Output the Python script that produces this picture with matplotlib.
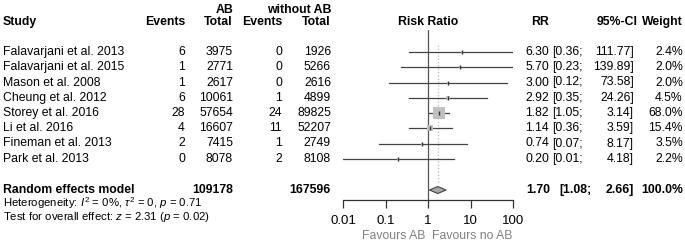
import matplotlib.pyplot as plt
import numpy as np

plt.rcParams['font.family'] = ['Liberation Sans', 'DejaVu Sans']
plt.rcParams['mathtext.fontset'] = 'custom'
plt.rcParams['mathtext.rm'] = 'Liberation Sans'
plt.rcParams['mathtext.it'] = 'Liberation Sans:italic'

# dados do forest plot
studies = ['Falavarjani et al. 2013', 'Falavarjani et al. 2015', 'Mason et al. 2008',
           'Cheung et al. 2012', 'Storey et al. 2016', 'Li et al. 2016',
           'Fineman et al. 2013', 'Park et al. 2013']
ev_ab = [6, 1, 1, 6, 28, 4, 2, 0]
tot_ab = [3975, 2771, 2617, 10061, 57654, 16607, 7415, 8078]
ev_no = [0, 0, 0, 1, 24, 11, 1, 2]
tot_no = [1926, 5266, 2616, 4899, 89825, 52207, 2749, 8108]
rr = [6.30, 5.70, 3.00, 2.92, 1.82, 1.14, 0.74, 0.20]
lo = [0.36, 0.23, 0.12, 0.35, 1.05, 0.36, 0.07, 0.01]
hi = [111.77, 139.89, 73.58, 24.26, 3.14, 3.59, 8.17, 4.18]
peso = [2.4, 2.0, 2.0, 4.5, 68.0, 15.4, 3.5, 2.2]

rr_tot, lo_tot, hi_tot = 1.70, 1.08, 2.66
n_ab, n_no = 109178, 167596

fs = 8.8
W, H = 685, 242
fig = plt.figure(figsize=(W / 100, H / 100), dpi=100)

# eixo de texto em pixels
tx = fig.add_axes([0, 0, 1, 1])
tx.set_xlim(0, W)
tx.set_ylim(H, 0)
tx.axis('off')

# eixo do forest (escala log)
x0, x1, yb, yt = 343, 513, 200, 30
fx = fig.add_axes([x0 / W, 1 - yb / H, (x1 - x0) / W, (yb - yt) / H])
fx.set_xscale('log')
fx.set_xlim(0.01, 100)
fx.set_ylim(yb, yt)
fx.patch.set_alpha(0)
for s in ['top', 'right', 'left']:
    fx.spines[s].set_visible(False)
fx.spines['bottom'].set_color('#333333')
fx.spines['bottom'].set_linewidth(0.9)
fx.set_yticks([])
fx.set_xticks([0.01, 0.1, 1, 10, 100])
fx.set_xticklabels(['0.01', '0.1', '1', '10', '100'], fontsize=fs + 0.7)
fx.minorticks_off()
fx.tick_params(axis='x', direction='out', length=6, width=0.9, color='#333333', pad=5)

linhas = [52 + 15.25 * i for i in range(len(studies))]
y_tot = 190

fx.axvline(1, color='#555555', lw=0.9)
fx.plot([rr_tot, rr_tot], [45, 184], color='#bbbbbb', lw=0.9, ls=':')

for i in range(len(studies)):
    y = linhas[i]
    fx.plot([lo[i], hi[i]], [y, y], color='#444444', lw=0.9, clip_on=True)
    lado = 12 * np.sqrt(peso[i] / 68.0) * 0.72
    fx.scatter([rr[i]], [y], marker='s', s=lado ** 2, color='#c0c0c0', zorder=3, lw=0)
    fx.scatter([rr[i]], [y], marker='|', s=9, color='#333333', zorder=4, lw=1)

# diamante do modelo
fx.fill([lo_tot, rr_tot, hi_tot, rr_tot], [y_tot, y_tot - 3.5, y_tot, y_tot + 3.5],
        facecolor='#a8a8a8', edgecolor='#444444', lw=0.8, zorder=3)

# cabeçalho
tx.text(233, 10, 'AB', ha='right', va='center', fontsize=fs, fontweight='bold')
tx.text(331, 10, 'without AB', ha='right', va='center', fontsize=fs, fontweight='bold')
cab = [(3, 'Study', 'left'), (185, 'Events', 'right'), (233, 'Total', 'right'),
       (282, 'Events', 'right'), (331, 'Total', 'right'), (428, 'Risk Ratio', 'center'),
       (549, 'RR', 'right'), (638, '95%-CI', 'right'), (683, 'Weight', 'right')]
for x, t, a in cab:
    tx.text(x, 22, t, ha=a, va='center', fontsize=fs, fontweight='bold')

for i in range(len(studies)):
    y = linhas[i]
    tx.text(3, y, studies[i], ha='left', va='center', fontsize=fs)
    tx.text(185, y, str(ev_ab[i]), ha='right', va='center', fontsize=fs)
    tx.text(233, y, str(tot_ab[i]), ha='right', va='center', fontsize=fs)
    tx.text(282, y, str(ev_no[i]), ha='right', va='center', fontsize=fs)
    tx.text(331, y, str(tot_no[i]), ha='right', va='center', fontsize=fs)
    tx.text(549, y, f'{rr[i]:.2f}', ha='right', va='center', fontsize=fs)
    tx.text(583, y, f'[{lo[i]:.2f};', ha='right', va='center', fontsize=fs)
    tx.text(634, y, f'{hi[i]:.2f}]', ha='right', va='center', fontsize=fs)
    tx.text(683, y, f'{peso[i]:.1f}%', ha='right', va='center', fontsize=fs)

tx.text(3, y_tot, 'Random effects model', ha='left', va='center', fontsize=fs, fontweight='bold')
tx.text(233, y_tot, str(n_ab), ha='right', va='center', fontsize=fs, fontweight='bold')
tx.text(331, y_tot, str(n_no), ha='right', va='center', fontsize=fs, fontweight='bold')
tx.text(550, y_tot, f'{rr_tot:.2f}', ha='right', va='center', fontsize=fs, fontweight='bold')
tx.text(592, y_tot, f'[{lo_tot:.2f};', ha='right', va='center', fontsize=fs, fontweight='bold')
tx.text(634, y_tot, f'{hi_tot:.2f}]', ha='right', va='center', fontsize=fs, fontweight='bold')
tx.text(683, y_tot, '100.0%', ha='right', va='center', fontsize=fs, fontweight='bold')

tx.text(3, 203, r'Heterogeneity: $I^2$ = 0%, $\tau^2$ = 0, $p$ = 0.71',
        ha='left', va='center', fontsize=fs - 0.6)
tx.text(3, 217, r'Test for overall effect: $z$ = 2.31 ($p$ = 0.02)',
        ha='left', va='center', fontsize=fs - 0.6)

tx.text(425, 236, 'Favours AB', ha='right', va='center', fontsize=fs, color='#808080')
tx.text(432, 236, 'Favours no AB', ha='left', va='center', fontsize=fs, color='#808080')

fig.savefig('out.png', dpi=100)
